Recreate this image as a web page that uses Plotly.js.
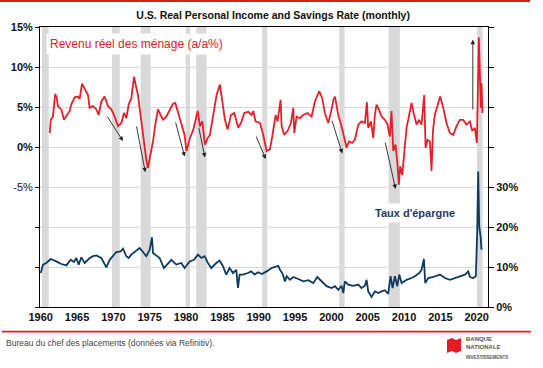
<!DOCTYPE html>
<html><head><meta charset="utf-8">
<script src="https://cdn.plot.ly/plotly-3.0.1.min.js"></script>
<style>html,body{margin:0;padding:0;background:#fff;}#chart{width:543px;height:368px;}</style>
</head><body><div id="chart"></div>
<script>
// Real personal income, y/y % (left axis)
const incomeYears = [1961.24,1961.39,1961.68,1961.98,1962.18,1962.38,1962.6,1962.84,1963.2,1963.53,1963.98,1964.2,1964.67,1965.13,1965.36,1965.68,1966.05,1966.51,1966.73,1967.19,1967.66,1967.97,1968.34,1968.79,1969.26,1969.72,1970.17,1970.64,1971.09,1971.46,1971.79,1972.1,1972.47,1972.84,1973.15,1973.38,1973.85,1974.21,1974.53,1974.76,1975.12,1975.45,1975.77,1976.13,1976.5,1976.83,1977.28,1977.74,1978.2,1978.52,1978.89,1979.34,1979.8,1980.05,1980.53,1981.0,1981.6,1981.91,1982.23,1982.6,1982.97,1983.28,1983.75,1984.2,1984.66,1984.99,1985.35,1985.72,1986.18,1986.63,1987.19,1987.64,1988.01,1988.56,1989.02,1989.25,1989.56,1990.17,1990.62,1991.08,1991.54,1991.86,1992.32,1992.59,1993.01,1993.15,1993.51,1993.97,1994.43,1994.75,1994.89,1995.21,1995.66,1996.12,1996.72,1997.27,1997.73,1998.33,1998.73,1999.1,1999.57,2000.02,2000.3,2000.5,2000.94,2001.4,2001.77,2002.09,2002.41,2002.86,2003.23,2003.7,2004.15,2004.61,2004.89,2005.06,2005.44,2005.76,2005.98,2006.21,2006.54,2006.9,2007.36,2007.73,2008.04,2008.27,2008.51,2008.83,2009.1,2009.28,2009.47,2009.75,2010.02,2010.34,2010.66,2011.03,2011.39,2011.72,2012.03,2012.4,2012.77,2012.96,2013.23,2013.55,2013.78,2013.97,2014.23,2014.6,2014.97,2015.39,2015.84,2016.3,2016.76,2017.22,2017.68,2018.14,2018.59,2019.06,2019.38,2019.74,2020.02,2020.29,2020.43,2020.56,2020.65,2020.79];
const incomeValues = [1.75,3.4,3.8,6.6,6.3,5.1,4.9,4.7,3.4,3.8,4.5,5.3,6.2,6.3,6.0,7.9,7.2,6.5,4.9,5.1,4.7,4.0,5.7,6.3,5.1,4.7,3.8,2.6,3.0,4.25,3.6,5.3,6.1,8.8,7.4,6.5,3.2,0.3,-1.6,-2.6,-1.0,0.7,2.8,4.7,4.0,3.4,3.8,4.7,5.4,5.5,4.25,2.8,1.5,-0.5,1.1,2.2,4.5,2.6,3.2,0.3,1.1,1.5,4.25,6.5,7.8,5.9,3.4,2.2,4.0,4.25,2.4,3.2,4.25,4.4,4.0,4.5,3.2,3.0,1.5,-0.5,-0.3,1.3,4.0,3.2,5.9,2.6,1.5,2.0,3.0,4.9,1.75,3.8,3.6,4.0,4.25,3.8,5.7,7.0,6.1,4.25,3.0,4.7,6.0,6.3,4.0,2.6,0.9,-0.1,0.7,0.5,0.9,2.8,3.2,3.0,5.6,2.4,3.2,1.1,4.0,5.3,4.7,3.8,3.4,2.8,1.3,4.5,-0.5,0.3,-2.2,-4.7,-2.4,-3.5,-0.75,2.4,3.8,5.5,4.0,2.8,3.4,2.8,6.5,-0.1,0.9,0.7,-3.0,2.0,4.0,5.1,6.3,4.9,3.0,1.75,1.5,2.6,3.4,3.4,2.8,3.2,2.0,2.4,0.5,13.7,7.4,4.9,8.0,4.25];

// Savings rate, % (right axis)
const savingsYears = [1960.0,1960.32,1960.77,1961.37,1962.15,1962.84,1963.53,1964.12,1964.58,1964.9,1965.22,1965.59,1966.05,1966.74,1967.19,1967.65,1968.34,1968.8,1969.03,1969.49,1969.94,1970.4,1971.0,1971.32,1971.78,1972.1,1972.47,1973.02,1973.61,1974.07,1974.53,1974.99,1975.31,1975.45,1975.77,1976.36,1976.96,1977.51,1977.97,1978.66,1979.34,1979.8,1980.49,1981.09,1981.64,1982.1,1982.55,1983.01,1983.47,1984.16,1984.62,1985.08,1985.53,1985.99,1986.45,1986.91,1987.05,1987.14,1987.37,1987.83,1988.51,1988.97,1989.43,1989.89,1990.44,1990.63,1991.09,1991.77,1992.37,1992.69,1992.92,1993.29,1993.61,1993.84,1994.3,1994.76,1995.44,1996.13,1996.82,1997.51,1998.06,1998.65,1999.34,2000.03,2000.49,2000.95,2001.4,2001.63,2001.86,2002.32,2003.01,2003.7,2004.15,2004.61,2004.84,2005.07,2005.53,2005.99,2006.45,2006.9,2007.36,2007.82,2008.14,2008.42,2008.74,2009.06,2009.34,2009.66,2010.34,2011.03,2011.49,2012.09,2012.41,2012.73,2012.91,2013.33,2014.01,2014.93,2015.62,2016.3,2016.99,2017.68,2018.37,2018.83,2019.06,2019.51,2019.88,2020.06,2020.2,2020.34,2020.52,2020.66];
const savingsValues = [8.5,10.6,11.0,12.0,11.4,10.75,10.4,11.8,11.25,12.25,10.6,12.4,11.0,12.25,12.7,12.9,12.25,10.6,9.9,11.8,12.7,13.75,13.9,14.6,12.7,12.25,13.1,13.9,14.75,13.75,12.7,14.3,17.4,13.5,13.1,12.25,9.75,11.0,11.8,10.6,11.0,9.75,11.4,11.8,13.1,12.25,12.7,11.0,9.75,11.0,11.6,10.2,8.1,9.75,8.5,9.3,6.8,4.75,8.1,8.1,8.5,8.9,8.1,8.7,8.25,8.5,8.9,9.75,10.2,10.3,9.3,8.3,6.4,7.7,6.8,7.5,7.0,6.4,6.7,6.0,7.5,6.4,5.2,4.75,5.2,4.3,5.3,3.5,6.4,5.6,5.3,5.6,4.75,5.3,6.8,3.9,2.5,3.9,3.5,3.9,4.2,3.3,7.7,4.75,7.7,5.2,8.1,6.0,6.8,7.25,7.7,8.5,9.3,12.0,6.0,7.25,7.5,8.1,7.25,6.8,7.25,7.7,8.1,8.9,7.5,7.25,7.7,18.5,33.9,20.2,17.7,14.3];

// Recession periods (start, end)
const recessionStart = [1960.18,1969.81,1973.76,1979.94,1981.4,1990.48,2001.07,2007.87,2020.05];
const recessionEnd   = [1961.1,1970.87,1975.13,1980.54,1982.83,1991.17,2001.82,2009.42,2020.8];

// Arrows (tail -> head) in data units of the left axis
const arrowTailX = [1969.02,1973.15,1978.51,1981.71,1989.57,2000.03,2007.36,2019.46];
const arrowTailY = [4.0,2.75,3.25,2.6,1.5,3.46,0.75,4.5];
const arrowHeadX = [1971.32,1974.39,1979.81,1982.6,1990.95,2001.49,2008.83,2019.46];
const arrowHeadY = [0.75,-3.16,-1.2,-1.3,-1.5,-0.8,-5.25,13.4];

const xTickYears = [1960,1965,1970,1975,1980,1985,1990,1995,2000,2005,2010,2015,2020];
const leftTickVals = [15,10,5,0,-5,-10,-15,-20];
const leftTickText = ['<b>15%</b>','<b>10%</b>','<b>5%</b>','<b>0%</b>','-5%','','',''];
const rightTickVals = [0,10,20,30,40,50,60,70];
const rightTickText = ['<b>0%</b>','<b>10%</b>','<b>20%</b>','<b>30%</b>','','','',''];

const FONT = 'Liberation Sans, Arial, sans-serif';
const RED = '#e5202a';
const NAVY = '#0f3a60';

const traces = [
  {x: incomeYears, y: incomeValues, type: 'scatter', mode: 'lines', yaxis: 'y',
   line: {color: RED, width: 1.8}, hoverinfo: 'skip'},
  {x: savingsYears, y: savingsValues, type: 'scatter', mode: 'lines', yaxis: 'y2',
   line: {color: NAVY, width: 1.8}, hoverinfo: 'skip'}
];

const shapes = [];
for (let i = 0; i < recessionStart.length; i++) {
  shapes.push({type: 'rect', xref: 'x', yref: 'paper', x0: recessionStart[i], x1: recessionEnd[i],
    y0: 0, y1: 1, fillcolor: '#d9d9d9', line: {width: 0}, layer: 'between'});
}
// top red band
shapes.push({type: 'rect', xref: 'paper', yref: 'paper', x0: -0.0893, x1: 1.0938, y0: 1.0893, y1: 1.0975,
  fillcolor: '#e31c23', line: {width: 0}});
// bottom red rule
shapes.push({type: 'line', xref: 'paper', yref: 'paper', x0: -0.0848, x1: 1.096, y0: -0.0882, y1: -0.0882,
  line: {color: '#e31c23', width: 1.8}});
// logo flag
shapes.push({type: 'path', xref: 'paper', yref: 'paper',
  path: 'M0.9085,-0.1179 L0.9196,-0.1107 L0.9286,-0.1179 L0.9397,-0.1107 L0.9397,-0.1571 L0.9286,-0.1643 L0.9196,-0.1571 L0.9085,-0.1643 Z',
  fillcolor: '#e31c23', line: {width: 0}});

const annotations = [];
for (let i = 0; i < arrowTailX.length; i++) {
  annotations.push({xref: 'x', yref: 'y', axref: 'x', ayref: 'y',
    x: arrowHeadX[i], y: arrowHeadY[i], ax: arrowTailX[i], ay: arrowTailY[i],
    text: '', showarrow: true, arrowhead: 2, arrowsize: 1, arrowwidth: 0.9, arrowcolor: '#222', standoff: 0});
}
annotations.push({xref: 'paper', yref: 'paper', x: 0.2165, y: 0.939, xanchor: 'center', yanchor: 'middle',
  text: 'Revenu réel des ménage (a/a%)', showarrow: false, bgcolor: '#ffffff', borderpad: 3,
  font: {family: FONT, size: 12, color: RED}});
annotations.push({xref: 'paper', yref: 'paper', x: 0.837, y: 0.3357, xanchor: 'center', yanchor: 'middle',
  text: "<b>Taux d'épargne</b>", showarrow: false, bgcolor: '#ffffff', borderpad: 3,
  font: {family: FONT, size: 11, color: '#1f3864'}});
annotations.push({xref: 'paper', yref: 'paper', x: -0.0804, y: -0.1286, xanchor: 'left', yanchor: 'middle',
  text: 'Bureau du chef des placements (données via Refinitiv).', showarrow: false,
  font: {family: FONT, size: 8.5, color: '#444'}});
annotations.push({xref: 'paper', yref: 'paper', x: 0.9464, y: -0.1268, xanchor: 'left', yanchor: 'middle',
  text: '<b>BANQUE<br>NATIONALE</b>', showarrow: false, align: 'left',
  font: {family: FONT, size: 6, color: '#555'}});
annotations.push({xref: 'paper', yref: 'paper', x: 0.9464, y: -0.1786, xanchor: 'left', yanchor: 'middle',
  text: '<b>INVESTISSEMENTS</b>', showarrow: false,
  font: {family: FONT, size: 4.5, color: '#555'}});

const layout = {
  width: 543, height: 368,
  margin: {l: 40, r: 55, t: 27, b: 61},
  paper_bgcolor: '#ffffff', plot_bgcolor: '#ffffff',
  showlegend: false,
  font: {family: FONT, color: '#000'},
  title: {text: '<b>U.S. Real Personal Income and Savings Rate (monthly)</b>', x: 0.503, xanchor: 'center',
    y: 0.957, yanchor: 'middle', font: {family: FONT, size: 10.5, color: '#111'}},
  xaxis: {range: [1959.9, 2021.55], tickvals: xTickYears, ticktext: xTickYears.map(v => '<b>' + v + '</b>'),
    ticks: '', showline: true, mirror: true, linecolor: '#000', linewidth: 1, showgrid: false, zeroline: false,
    tickfont: {family: FONT, size: 11, color: '#111'}},
  xaxis2: {overlaying: 'x', anchor: 'free', position: 20/35, side: 'top', range: [1959.9, 2021.55],
    tickvals: xTickYears, showticklabels: false, ticks: 'outside', ticklen: 5, tickcolor: '#000',
    showline: true, linecolor: '#000', linewidth: 1.2, showgrid: false, zeroline: false},
  yaxis: {range: [-20, 15], tickvals: leftTickVals, ticktext: leftTickText, ticks: 'outside', ticklen: 4,
    tickcolor: '#000', showline: true, linecolor: '#000', linewidth: 1, showgrid: true, gridcolor: '#d9d9d9',
    gridwidth: 1, zeroline: false, tickfont: {family: FONT, size: 11, color: '#111'}},
  yaxis2: {overlaying: 'y', side: 'right', range: [0, 70], tickvals: rightTickVals, ticktext: rightTickText,
    ticks: 'outside', ticklen: 5, tickcolor: '#000', showline: true, linecolor: '#000', linewidth: 1,
    showgrid: false, zeroline: false, tickfont: {family: FONT, size: 11, color: '#111'}},
  shapes: shapes,
  annotations: annotations
};

Plotly.newPlot('chart', traces, layout, {displayModeBar: false, staticPlot: true});
</script>
</body></html>
